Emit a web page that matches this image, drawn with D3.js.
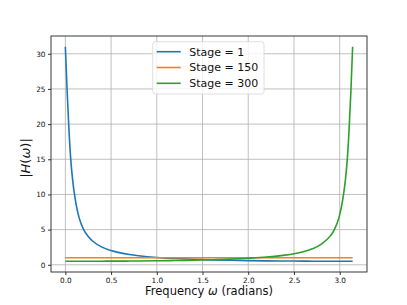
<!DOCTYPE html>
<html>
<head>
<meta charset="utf-8">
<script src="https://cdn.jsdelivr.net/npm/d3@7"></script>
<style>
  body { margin: 0; background: #fff; }
  svg { display: block; font-family: "DejaVu Sans", sans-serif; }
</style>
</head>
<body>
<div id="chart"></div>
<script>
// frequency samples (radians) shared by stage 1 and stage 300
const freqs = [0, 0.02, 0.04, 0.06, 0.08, 0.1, 0.12, 0.15, 0.2, 0.25, 0.3, 0.4, 0.5, 0.6, 0.7, 0.8,
  1.0, 1.2, 1.4, 1.6, 1.8, 2.0, 2.2, 2.4, 2.5, 2.6, 2.7, 2.8, 2.9,
  2.942, 2.992, 3.022, 3.042, 3.062, 3.082, 3.102, 3.122, 3.1416];

const stage1 = [31.0, 24.5, 19.0, 14.8, 12.0, 10.0, 8.4, 6.7, 5.0, 4.01, 3.35, 2.51, 2.02, 1.69, 1.46, 1.29,
  1.04, 0.89, 0.78, 0.70, 0.64, 0.59, 0.56, 0.54, 0.53, 0.52, 0.51, 0.51, 0.50,
  0.50, 0.50, 0.50, 0.50, 0.50, 0.50, 0.50, 0.50, 0.50];

const stage300 = [0.50, 0.50, 0.50, 0.50, 0.50, 0.50, 0.50, 0.50, 0.50, 0.50, 0.51, 0.51, 0.52, 0.52, 0.53, 0.54,
  0.57, 0.61, 0.65, 0.72, 0.80, 0.93, 1.10, 1.37, 1.57, 1.85, 2.27, 2.94, 4.15,
  5.0, 6.7, 8.4, 10.0, 12.0, 14.8, 19.0, 24.5, 31.0];

// stage 150 is flat across the whole band
const freqs150 = [0, 3.1416];
const stage150 = [1.0, 1.0];

const seriesNames = ["Stage = 1", "Stage = 150", "Stage = 300"];
const seriesColors = ["#1f77b4", "#ff7f0e", "#2ca02c"];

const xTicks = [0, 0.5, 1.0, 1.5, 2.0, 2.5, 3.0];
const yTicks = [0, 5, 10, 15, 20, 25, 30];

const W = 407, H = 305;
const margin = {top: 36, right: 40, bottom: 33, left: 51};
const width = W - margin.left - margin.right;
const height = H - margin.top - margin.bottom;

const series = [
  {name: seriesNames[0], color: seriesColors[0], pts: freqs.map((f, i) => [f, stage1[i]])},
  {name: seriesNames[1], color: seriesColors[1], pts: freqs150.map((f, i) => [f, stage150[i]])},
  {name: seriesNames[2], color: seriesColors[2], pts: freqs.map((f, i) => [f, stage300[i]])}
];

// matplotlib style 5% padding around the data
const allPts = series.flatMap(s => s.pts);
const xMin = d3.min(allPts, d => d[0]), xMax = d3.max(allPts, d => d[0]);
const yMin = d3.min(allPts, d => d[1]), yMax = d3.max(allPts, d => d[1]);
const xPad = (xMax - xMin) * 0.05, yPad = (yMax - yMin) * 0.05;

const x = d3.scaleLinear().domain([xMin - xPad, xMax + xPad]).range([0, width]);
const y = d3.scaleLinear().domain([yMin - yPad, yMax + yPad]).range([height, 0]);

const svg = d3.select("#chart")
  .append("svg")
  .attr("width", W)
  .attr("height", H)
  .append("g")
  .attr("transform", "translate(" + margin.left + "," + margin.top + ")");

// grid
svg.append("g")
  .selectAll("line")
  .data(xTicks)
  .join("line")
  .attr("x1", d => x(d)).attr("x2", d => x(d))
  .attr("y1", 0).attr("y2", height)
  .attr("stroke", "#b0b0b0")
  .attr("stroke-width", 0.8);

svg.append("g")
  .selectAll("line")
  .data(yTicks)
  .join("line")
  .attr("x1", 0).attr("x2", width)
  .attr("y1", d => y(d)).attr("y2", d => y(d))
  .attr("stroke", "#b0b0b0")
  .attr("stroke-width", 0.8);

// lines
const line = d3.line().x(d => x(d[0])).y(d => y(d[1])).curve(d3.curveMonotoneX);
series.forEach(s => {
  svg.append("path")
    .datum(s.pts)
    .attr("fill", "none")
    .attr("stroke", s.color)
    .attr("stroke-width", 1.6)
    .attr("d", line);
});

// axes
const xAxis = d3.axisBottom(x).tickValues(xTicks).tickFormat(d3.format(".1f")).tickSize(3).tickPadding(2.5);
const yAxis = d3.axisLeft(y).tickValues(yTicks).tickFormat(d3.format("d")).tickSize(3).tickPadding(2.5);

const gx = svg.append("g").attr("transform", "translate(0," + height + ")").call(xAxis);
const gy = svg.append("g").call(yAxis);
[gx, gy].forEach(g => {
  g.select(".domain").remove();
  g.selectAll("line").attr("stroke", "#000").attr("stroke-width", 0.8);
  g.selectAll("text").attr("font-family", "DejaVu Sans").attr("font-size", 7.3).attr("fill", "#111");
});

// frame
svg.append("rect")
  .attr("x", 0).attr("y", 0)
  .attr("width", width).attr("height", height)
  .attr("fill", "none")
  .attr("stroke", "#222")
  .attr("stroke-width", 0.9);

// axis labels
svg.append("text")
  .attr("x", width / 2)
  .attr("y", height + 23)
  .attr("text-anchor", "middle")
  .attr("font-size", 11.5)
  .attr("fill", "#111")
  .html("Frequency <tspan font-style='italic'>ω</tspan> (radians)");

svg.append("text")
  .attr("transform", "translate(" + (-21) + "," + (height / 2 + 4) + ") rotate(-90)")
  .attr("text-anchor", "middle")
  .attr("font-size", 13)
  .attr("fill", "#111")
  .html("|<tspan font-style='italic'>H</tspan>(<tspan font-style='italic'>ω</tspan>)|");

// legend
const leg = svg.append("g").attr("transform", "translate(" + (152.7 - margin.left) + "," + (41.7 - margin.top) + ")");
leg.append("rect")
  .attr("width", 111.3).attr("height", 52.3)
  .attr("rx", 2.5)
  .attr("fill", "#fff").attr("fill-opacity", 0.8)
  .attr("stroke", "#d6d6d6").attr("stroke-width", 0.8);

series.forEach((s, i) => {
  const cy = 10 + i * 15.8;
  leg.append("line")
    .attr("x1", 4).attr("x2", 28)
    .attr("y1", cy).attr("y2", cy)
    .attr("stroke", s.color).attr("stroke-width", 1.6);
  leg.append("text")
    .attr("x", 36.5).attr("y", cy + 4)
    .attr("font-size", 11)
    .attr("fill", "#111")
    .text(s.name);
});
</script>
</body>
</html>
